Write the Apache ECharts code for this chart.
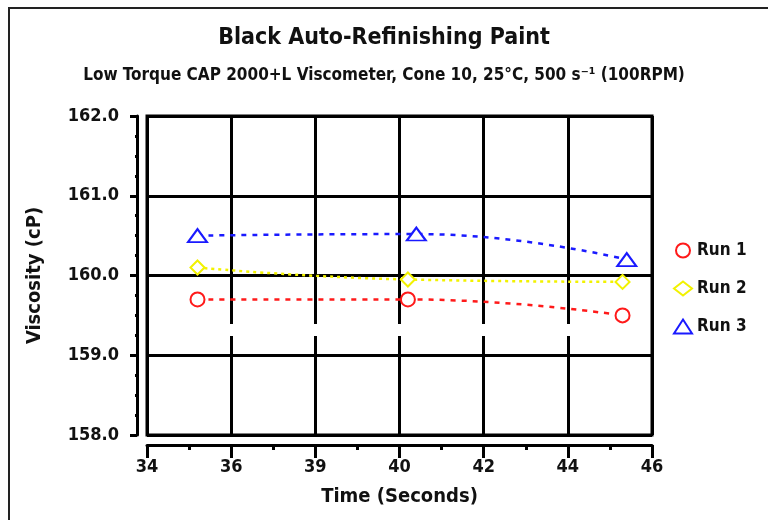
<!DOCTYPE html>
<html>
<head>
<meta charset="utf-8">
<script src="https://cdn.jsdelivr.net/npm/echarts@6/dist/echarts.min.js"></script>
<style>
  html, body { margin: 0; padding: 0; background: #fff; }
  #chart { width: 768px; height: 520px; }
</style>
</head>
<body>
<div id="chart"></div>
<script>
const FONT = '"DejaVu Sans Condensed", "Liberation Sans", sans-serif';

// x tick labels as printed on the original (the 38 tick reads "39")
const xTickLabels = ["34", "36", "39", "40", "42", "44", "46"];

const run1 = [[35.2, 159.7], [40.2, 159.7], [45.3, 159.5]];
const run2 = [[35.2, 160.1], [40.2, 159.95], [45.3, 159.92]];
const run3 = [[35.2, 160.5], [40.4, 160.52], [45.4, 160.2]];

const seriesNames = ["Run 1", "Run 2", "Run 3"];
const seriesColors = ["#ff1a1a", "#f2f200", "#1a1aff"];
const seriesSymbols = ["emptyCircle", "emptyDiamond", "emptyTriangle"];

const chart = echarts.init(document.getElementById("chart"));

function makeSeries(i, data) {
  return {
    name: seriesNames[i],
    type: "line",
    data: data,
    smooth: true,
    symbol: seriesSymbols[i],
    symbolSize: i === 2 ? [19, 13] : 14,
    showAllSymbol: true,
    color: seriesColors[i],
    itemStyle: { color: seriesColors[i], borderColor: seriesColors[i], borderWidth: 2 },
    lineStyle: { color: seriesColors[i], width: 2.5, type: i === 1 ? [3, 4] : [5, 6] },
    z: 3,
  };
}

const option = {
  animation: false,
  backgroundColor: "#fff",
  title: [
    {
      text: "Black Auto-Refinishing Paint",
      left: "center",
      top: 22,
      textStyle: { fontFamily: FONT, fontSize: 23, fontWeight: "bold", color: "#111" },
    },
    {
      text: "Low Torque CAP 2000+L Viscometer, Cone 10, 25°C, 500 s⁻¹ (100RPM)",
      left: "center",
      top: 62,
      textStyle: { fontFamily: FONT, fontSize: 17, fontWeight: "bold", color: "#111" },
    },
  ],
  legend: {
    orient: "vertical",
    left: 668,
    top: 237,
    itemGap: 21,
    itemWidth: 18,
    itemHeight: 14,
    data: seriesNames.map((n, i) => ({
      name: n,
      icon: ["circle", "diamond", "triangle"][i],
      itemStyle: { color: "#fff", borderColor: seriesColors[i], borderWidth: 2 },
    })),
    textStyle: { fontFamily: FONT, fontSize: 17, fontWeight: "bold", color: "#111" },
  },
  grid: {
    left: 147,
    right: 116,
    top: 116,
    bottom: 85,
    show: true,
    borderColor: "#000",
    borderWidth: 3,
    backgroundColor: "transparent",
  },
  xAxis: {
    type: "value",
    min: 34,
    max: 46,
    interval: 2,
    offset: 10,
    name: "Time (Seconds)",
    nameLocation: "middle",
    nameGap: 42,
    nameTextStyle: { fontFamily: FONT, fontSize: 20, fontWeight: "bold", color: "#111" },
    axisLine: { show: true, lineStyle: { color: "#000", width: 3 } },
    axisTick: { show: true, inside: false, length: 13, lineStyle: { color: "#000", width: 3 } },
    minorTick: { show: true, splitNumber: 2, length: 5, lineStyle: { color: "#000", width: 3 } },
    axisLabel: {
      fontFamily: FONT,
      fontSize: 18,
      fontWeight: "bold",
      color: "#111",
      margin: 13,
      formatter: (v) => xTickLabels[Math.round((v - 34) / 2)],
    },
    splitLine: { show: true, lineStyle: { color: "#000", width: 3 } },
  },
  yAxis: {
    type: "value",
    min: 158,
    max: 162,
    interval: 1,
    offset: 10,
    name: "Viscosity (cP)",
    nameLocation: "middle",
    nameGap: 92,
    nameTextStyle: { fontFamily: FONT, fontSize: 20, fontWeight: "bold", color: "#111" },
    axisLine: { show: true, lineStyle: { color: "#000", width: 3 } },
    axisTick: { show: true, length: 7, lineStyle: { color: "#000", width: 3 } },
    minorTick: { show: true, splitNumber: 4, length: 2, lineStyle: { color: "#000", width: 3 } },
    axisLabel: {
      fontFamily: FONT,
      fontSize: 18,
      fontWeight: "bold",
      color: "#111",
      margin: 18,
      formatter: (v) => v.toFixed(1),
    },
    splitLine: { show: true, lineStyle: { color: "#000", width: 3 } },
  },
  graphic: [
    // outer frame of the figure (cut off at right and bottom)
    {
      type: "rect",
      shape: { x: 9, y: 8, width: 800, height: 600 },
      style: { fill: "none", stroke: "#222", lineWidth: 2 },
      silent: true,
      z: 10,
    },
    // break in the vertical grid lines
    {
      type: "rect",
      shape: { x: 150, y: 324, width: 499, height: 12 },
      style: { fill: "#fff" },
      silent: true,
      z: 1,
    },
  ],
  series: [makeSeries(0, run1), makeSeries(1, run2), makeSeries(2, run3)],
};

chart.setOption(option);
</script>
</body>
</html>
